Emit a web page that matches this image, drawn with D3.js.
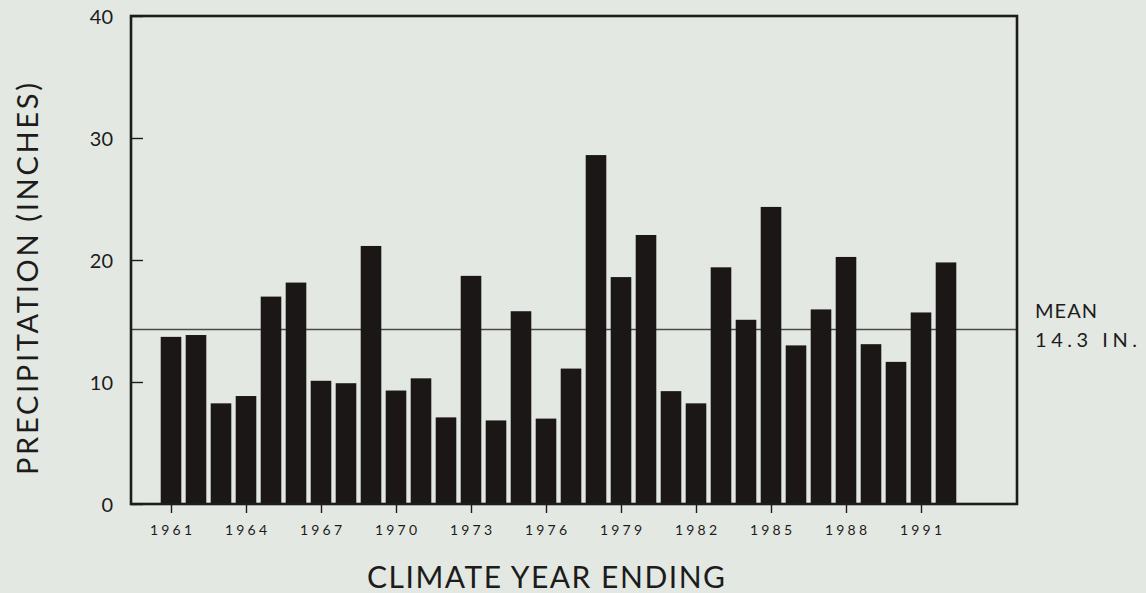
<!DOCTYPE html>
<html>
<head>
<meta charset="utf-8">
<script src="https://cdn.jsdelivr.net/npm/d3@7"></script>
<style>
  html, body { margin: 0; padding: 0; background: #e4e8e2; }
  svg { display: block; }
  text { font-family: Lato, "DejaVu Sans", sans-serif; fill: #1c1c1c; }
</style>
</head>
<body>
<svg id="chart" width="1146" height="593"></svg>
<script>
const years = [1961,1962,1963,1964,1965,1966,1967,1968,1969,1970,1971,1972,1973,1974,1975,1976,
               1977,1978,1979,1980,1981,1982,1983,1984,1985,1986,1987,1988,1989,1990,1991,1992];
const precipitation = [13.7,13.85,8.25,8.85,17.0,18.15,10.1,9.9,21.15,9.3,10.3,7.1,18.7,6.85,15.8,7.0,
                       11.1,28.6,18.6,22.05,9.25,8.25,19.4,15.1,24.35,13.0,15.95,20.25,13.1,11.65,15.7,19.8];
const yTicks = [0,10,20,30,40];
const xTickYears = [1961,1964,1967,1970,1973,1976,1979,1982,1985,1988,1991];
const meanValue = 14.3;
const meanLabel = ["MEAN", "14.3  IN."];
const yTitle = "PRECIPITATION  (INCHES)";
const xTitle = "CLIMATE  YEAR  ENDING";

(function () {
const svg = d3.select("#chart");
const pL = 131, pR = 1017, pT = 16, pB = 504;

const x = d3.scaleLinear().domain([1959.4, 1994.84]).range([pL, pR]);
const y = d3.scaleLinear().domain([0, 40]).range([pB, pT]);
const barW = 20.6;

// mean line (behind bars)
svg.append("line")
  .attr("x1", pL).attr("x2", pR)
  .attr("y1", y(meanValue)).attr("y2", y(meanValue))
  .attr("stroke", "#4a4a4a").attr("stroke-width", 1.6);

// bars
svg.append("g").selectAll("rect")
  .data(years.map((yr, i) => ({yr, v: precipitation[i]})))
  .join("rect")
  .attr("x", d => x(d.yr) - barW / 2)
  .attr("width", barW)
  .attr("y", d => y(d.v))
  .attr("height", d => y(0) - y(d.v))
  .attr("fill", "#1b1717");

// frame
svg.append("rect")
  .attr("x", pL).attr("y", pT)
  .attr("width", pR - pL).attr("height", pB - pT)
  .attr("fill", "none").attr("stroke", "#1c1c1c").attr("stroke-width", 2.6);

// y axis (ticks inward)
const yAxis = d3.axisRight(y).tickValues(yTicks).tickSize(12).tickFormat("");
const gy = svg.append("g").attr("transform", `translate(${pL},0)`).call(yAxis);
gy.select(".domain").remove();
gy.selectAll(".tick line").attr("stroke", "#1c1c1c").attr("stroke-width", 1.4);
svg.append("g").selectAll("text")
  .data(yTicks).join("text")
  .attr("x", 113).attr("y", d => y(d) + 7.5)
  .attr("text-anchor", "end")
  .attr("font-size", 20)
  .text(d => d);

// x axis (ticks outward)
const xAxis = d3.axisBottom(x).tickValues(xTickYears).tickSize(9).tickFormat("");
const gx = svg.append("g").attr("transform", `translate(0,${pB})`).call(xAxis);
gx.select(".domain").remove();
gx.selectAll(".tick line").attr("stroke", "#1c1c1c").attr("stroke-width", 1.4);
svg.append("g").selectAll("text")
  .data(xTickYears).join("text")
  .attr("x", d => x(d)).attr("y", 535)
  .attr("text-anchor", "middle")
  .attr("font-size", 14)
  .attr("textLength", 42).attr("lengthAdjust", "spacing")
  .text(d => d);

// mean label
svg.append("text").attr("x", 1035).attr("y", 318).attr("font-size", 20)
  .attr("textLength", 62).attr("lengthAdjust", "spacing").text(meanLabel[0]);
svg.append("text").attr("x", 1035).attr("y", 347).attr("font-size", 20)
  .attr("textLength", 102).attr("lengthAdjust", "spacing").text(meanLabel[1]);

// axis titles
svg.append("text")
  .attr("transform", "translate(38,279) rotate(-90)")
  .attr("text-anchor", "middle")
  .attr("font-size", 29)
  .attr("textLength", 392).attr("lengthAdjust", "spacing")
  .text(yTitle);

svg.append("text")
  .attr("x", 367).attr("y", 588)
  .attr("font-size", 30)
  .attr("textLength", 358).attr("lengthAdjust", "spacing")
  .text(xTitle);
})();
</script>
</body>
</html>
